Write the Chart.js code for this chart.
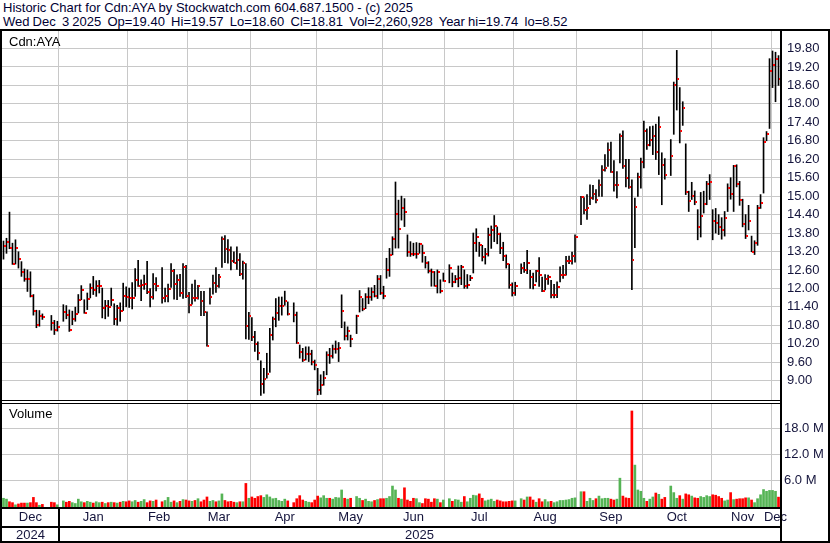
<!DOCTYPE html>
<html>
<head>
<meta charset="utf-8">
<script src="https://cdn.jsdelivr.net/npm/chart.js@4.4.1/dist/chart.umd.min.js"></script>
<style>
  body { margin: 0; background: #fff; width: 830px; height: 543px; overflow: hidden; position: relative;
         font-family: "Liberation Sans", Arial, sans-serif; }
  .hdr { position: absolute; left: 3px; font-size: 13px; line-height: 14px; color: #000033; white-space: pre; }
  .lbl { position: absolute; font-size: 13px; line-height: 14px; color: #000; }
  .ln { position: absolute; background: #000; }
  canvas { position: absolute; left: 0; }
</style>
</head>
<body>
<div class="hdr" style="top:1px">Historic Chart for Cdn:AYA by Stockwatch.com 604.687.1500 - (c) 2025</div>
<div class="hdr" style="top:15px;word-spacing:-0.5px">Wed Dec  3 2025  Op=19.40  Hi=19.57  Lo=18.60  Cl=18.81  Vol=2,260,928  Year hi=19.74  lo=8.52</div>

<canvas id="price" width="830" height="369" style="top:31px"></canvas>
<canvas id="volume" width="830" height="139" style="top:404px"></canvas>

<div class="lbl" style="left:9px;top:35px">Cdn:AYA</div>
<div class="lbl" style="left:9px;top:407px">Volume</div>

<!-- frame -->
<div class="ln" style="left:0;top:29px;width:830px;height:2px"></div>
<div class="ln" style="left:0;top:29px;width:2px;height:514px"></div>
<div class="ln" style="left:828px;top:29px;width:2px;height:514px"></div>
<div class="ln" style="left:780px;top:29px;width:2px;height:514px"></div>
<div class="ln" style="left:0;top:400px;width:782px;height:1px"></div>
<div class="ln" style="left:0;top:403px;width:782px;height:1px"></div>
<div class="ln" style="left:0;top:507px;width:782px;height:2px"></div>
<div class="ln" style="left:0;top:526px;width:782px;height:2px"></div>
<div class="ln" style="left:0;top:541px;width:830px;height:2px"></div>

<script>
// trading slots: every weekday from 5 Dec 2024 to 3 Dec 2025 (holidays are null)
const firstDay = '2024-12-05';
const lastDay = '2025-12-03';
const monthNames = ['Jan', 'Feb', 'Mar', 'Apr', 'May', 'Jun', 'Jul', 'Aug', 'Sep', 'Oct', 'Nov', 'Dec'];

const highs = [
  13.54, 13.63, 14.48, 13.47, 13.58, 13.19, 12.87, 12.63, 12.60, 12.54, 11.80, 11.29, 11.28, 11.17, null, null, 11.12, 10.96, 10.93,
  null, 11.47, 11.44, 11.30, 11.26, 11.39, 11.80, 12.09, 11.63, 11.85, 12.15, 12.39, 12.25, 12.26, 12.01, 11.61, 11.61, 12.01, 11.50, 11.45, 11.53, 12.17, 12.05,
  12.01, 12.19, 12.64, 12.91, 12.28, 12.43, 12.88, 11.99, 12.48, 12.35, null, 12.68, 12.01, 12.14, 12.81, 12.62, 12.44, 12.46, 12.81, 12.75,
  11.87, 12.14, 12.27, 12.10, 11.90, 11.90, 11.24, 12.01, 12.43, 12.68, 12.46, 13.68, 13.72, 13.59, 13.35, 13.19, 13.35, 13.13, 12.89, 12.81, 11.22,
  11.05, 10.60, 10.26, 9.64, 9.40, 9.89, 10.70, 11.07, 11.67, 11.72, 11.72, 11.91, 11.56, null, 11.53, 11.23, 10.16, 10.05, 10.10, 10.10, 9.99, 9.67,
  9.40, 9.19, 9.30, 9.94, 10.05, 10.16, 10.29, 10.24, 11.79, 10.91, 10.75, 10.48, null, 11.13, 11.93, 11.67, 11.83, 12.02, 12.02, 12.10, 12.42, 12.42,
  12.07, 12.98, 13.30, 13.68, 15.46, 14.87, 15.00, 14.92, 13.74, 13.52, 13.47, 13.49, 13.47, 13.41, 13.04, 12.87, 12.63, 12.55, 12.60, 12.28, 12.50,
  null, 12.77, 12.50, 12.42, 12.73, 12.75, 12.60, 12.45, 12.42, 13.80, 13.94, 13.50, 13.40, 13.30, 13.96, 14.03, 14.37, 14.00, 13.80, 13.50, 13.09, 12.79, 12.18,
  12.20, null, 12.80, 12.85, 13.24, 12.59, 12.50, 12.59, 13.00, 12.37, 12.45, 12.43, 12.26, 12.13, 12.21, 12.70, 12.75, 13.04, 13.05, 13.18, 13.74,
  null, 14.99, 14.95, 15.05, 15.37, 15.35, 15.21, 15.53, 15.99, 16.35, 16.73, 16.76, 16.16, 15.80, 17.03, 17.12, 16.20, 16.20, 15.53, 14.94, 15.75, 16.24,
  17.44, 17.19, 17.26, 17.28, 17.34, 17.58, 16.41, 16.22, null, 16.84, 18.71, 19.74, 18.53, 18.07, 16.70, 15.16, 15.45, 15.17, 14.56, 15.12, 15.16, 15.48, 15.70,
  14.56, 14.60, 14.40, 14.30, 14.50, 15.40, 15.60, 16.00, 16.02, 15.48, 14.90, 14.40, 14.70, 13.70, 13.55, 14.70, 15.05, 16.90, 17.10, 19.47,
  19.72, 19.68, 19.57
];
const lows = [
  12.95, 13.14, 13.29, 12.78, 12.79, 12.66, 12.39, 12.23, 11.90, 11.72, 11.13, 10.72, 10.77, 10.99, null, null, 10.64, 10.50, 10.61,
  null, 10.93, 11.01, 10.60, 10.82, 10.93, 11.20, 11.63, 11.19, 11.31, 11.69, 11.80, 11.74, 11.85, 11.04, 11.01, 11.09, 11.44, 10.82, 10.80, 10.93, 11.28, 11.40,
  11.38, 11.33, 11.74, 12.06, 11.60, 11.97, 11.83, 11.40, 11.65, 11.92, null, 11.52, 11.56, 11.56, 12.03, 11.65, 11.63, 11.74, 11.67, 11.70,
  11.20, 11.49, 11.58, 11.65, 11.11, 11.11, 10.12, 11.49, 11.81, 11.87, 12.03, 12.68, 12.84, 12.82, 12.60, 12.84, 12.62, 12.41, 12.30, 10.36, 10.34,
  10.30, 9.95, 9.67, 8.52, 8.59, 9.08, 9.27, 10.32, 10.75, 10.96, 11.13, 11.45, 11.13, null, 10.91, 10.21, 9.73, 9.62, 9.67, 9.62, 9.51, 9.35,
  8.54, 8.55, 8.85, 9.19, 9.56, 9.73, 9.89, 9.62, 10.72, 10.32, 10.32, 10.10, null, 10.53, 11.23, 11.27, 11.34, 11.50, 11.61, 11.72, 11.67, 11.80,
  11.66, 12.33, 12.39, 13.09, 13.31, 13.31, 14.22, 14.01, 13.04, 13.04, 13.06, 12.98, 13.14, 12.85, 12.66, 12.50, 12.07, 12.07, 11.85, 11.85, 12.23,
  null, 12.18, 12.05, 12.18, 12.05, 12.12, 12.00, 12.00, 12.25, 12.50, 13.20, 13.04, 12.89, 12.79, 13.05, 13.30, 13.52, 13.45, 13.13, 12.90, 12.66, 12.00, 11.75,
  11.77, null, 12.48, 12.52, 12.48, 12.00, 11.98, 12.21, 12.06, 11.89, 11.95, 12.13, 11.69, 11.69, 11.70, 12.21, 12.32, 12.43, 12.80, 12.79, 12.85,
  null, 14.07, 14.42, 14.24, 14.72, 14.89, 14.78, 14.99, 14.99, 15.81, 15.97, 15.77, 15.16, 14.94, 16.08, 15.90, 15.30, 15.25, 11.96, 13.32, 14.99, 15.26,
  15.92, 16.52, 16.63, 16.35, 16.19, 15.70, 14.72, 15.55, null, 15.67, 17.01, 17.80, 16.73, 17.30, 15.05, 14.50, 14.89, 14.72, 13.58, 13.67, 14.45, 14.72, 14.89,
  13.58, 13.80, 13.75, 13.60, 13.70, 14.50, 14.90, 14.50, 15.30, 14.70, 14.00, 13.62, 13.90, 13.19, 13.10, 13.40, 14.60, 15.10, 16.80, 17.20,
  18.53, 18.07, 18.60
];
const closes = [
  13.39, 13.51, 13.30, 12.78, 13.32, 12.96, 12.52, 12.29, 12.32, 11.74, 11.26, 10.82, 11.09, 11.06, null, null, 10.87, 10.65, 10.74,
  null, 11.22, 11.15, 10.66, 10.99, 11.18, 11.61, 11.94, 11.19, 11.64, 12.01, 11.96, 12.09, 12.09, 11.36, 11.42, 11.40, 11.62, 10.99, 11.37, 11.28, 11.75, 11.72,
  11.68, 11.70, 12.28, 12.08, 12.10, 12.14, 11.89, 11.73, 12.14, 12.08, null, 11.69, 11.76, 11.97, 12.56, 12.15, 12.28, 11.86, 12.70, 11.74,
  11.46, 11.70, 11.68, 12.08, 11.60, 11.24, 10.14, 11.73, 12.18, 12.08, 12.37, 13.59, 13.27, 13.24, 12.89, 12.84, 12.92, 12.46, 12.84, 10.79, 11.11,
  10.41, 10.20, 9.91, 8.88, 9.06, 9.21, 10.48, 11.02, 11.21, 11.43, 11.43, 11.60, 11.16, null, 11.13, 10.22, 9.93, 9.66, 9.87, 9.87, 9.61, 9.51,
  8.70, 8.86, 9.08, 9.83, 9.80, 10.02, 10.02, 10.05, 11.26, 10.45, 10.61, 10.37, null, 11.09, 11.72, 11.32, 11.72, 11.72, 11.88, 11.75, 12.29, 11.86,
  11.76, 12.60, 13.09, 13.61, 14.42, 13.93, 14.62, 14.49, 13.17, 13.13, 13.12, 13.12, 13.44, 13.15, 12.84, 12.58, 12.52, 12.09, 12.52, 11.90, 12.23,
  null, 12.65, 12.22, 12.30, 12.33, 12.70, 12.09, 12.12, 12.33, 13.49, 13.67, 13.42, 13.01, 13.11, 13.74, 13.90, 14.03, 13.78, 13.31, 13.06, 12.79, 12.11, 11.84,
  12.07, null, 12.67, 12.61, 12.81, 12.37, 12.12, 12.56, 12.43, 11.92, 12.32, 12.37, 11.80, 11.80, 12.03, 12.43, 12.43, 12.90, 12.90, 13.04, 13.66,
  null, 14.96, 14.56, 14.60, 14.94, 15.08, 14.89, 15.37, 15.86, 15.91, 16.50, 15.77, 15.37, 15.37, 16.94, 15.97, 15.60, 15.29, 12.92, 14.64, 15.61, 16.10,
  17.11, 16.65, 16.82, 16.95, 16.43, 17.24, 16.00, 15.68, null, 16.32, 18.61, 18.80, 17.11, 17.86, 15.12, 14.83, 15.00, 14.81, 13.98, 14.34, 14.74, 15.39, 15.45,
  14.18, 14.11, 14.00, 13.91, 14.28, 15.25, 15.08, 15.97, 15.40, 14.86, 14.09, 13.71, 14.18, 13.19, 13.46, 14.63, 14.77, 16.76, 17.02, 19.06,
  19.26, 19.45, 18.81
];
// volume in millions of shares
const volumes = [
  2.0, 1.8, 1.2, 1.0, 0.5, 0.7, 0.9, 0.9, 0.9, 1.0, 2.2, 1.0, 0.4, 0.6, null, null, 1.1, 1.0, 0.5,
  null, 1.4, 1.1, 1.3, 1.0, 0.8, 1.8, 1.2, 1.0, 1.3, 1.1, 0.9, 1.2, 1.0, 1.1, 0.8, 1.0, 1.1, 1.0, 0.9, 1.1, 1.3, 1.2,
  1.4, 1.2, 1.5, 1.1, 1.3, 1.7, 1.0, 1.4, 1.3, 1.6, null, 1.2, 1.5, 2.2, 1.1, 1.4, 1.0, 1.3, 1.7, 1.6,
  1.4, 1.3, 1.5, 1.9, 1.2, 1.6, 2.3, 1.3, 1.5, 1.2, 1.4, 3.0, 1.5, 1.2, 1.3, 1.1, 1.0, 1.2, 1.2, 5.4, 2.0,
  2.3, 2.0, 2.4, 2.6, 2.2, 2.8, 2.3, 1.9, 2.0, 1.5, 1.3, 1.8, 1.4, null, 1.0, 1.9, 2.6, 1.6, 1.3, 1.1, 1.0, 1.6,
  2.5, 2.1, 2.6, 2.0, 2.0, 1.8, 2.2, 2.1, 3.9, 2.0, 1.8, 2.0, null, 2.4, 2.0, 1.5, 1.8, 1.3, 1.2, 1.5, 1.7, 1.9,
  1.9, 2.0, 2.4, 4.8, 3.9, 2.0, 1.8, 4.4, 1.6, 1.3, 2.0, 1.9, 1.0, 0.8, 1.9, 1.8, 1.1, 1.9, 1.8, 1.0, 1.6,
  null, 1.9, 1.3, 1.7, 1.6, 1.1, 2.4, 1.2, 2.0, 2.7, 2.6, 3.0, 2.0, 1.4, 1.6, 1.8, 1.3, 1.6, 1.4, 1.2, 1.2, 1.3, 1.4,
  1.4, null, 1.9, 1.6, 2.3, 2.3, 1.6, 1.1, 1.9, 1.2, 1.7, 1.2, 1.3, 1.0, 1.2, 1.5, 1.5, 1.6, 1.7, 2.0, 2.1,
  null, 3.5, 3.5, 1.3, 2.0, 1.5, 1.9, 2.5, 1.9, 2.0, 2.0, 1.8, 1.6, 1.8, 6.6, 2.5, 2.1, 2.0, 22.0, 9.6, 3.9, 3.6,
  2.0, 1.3, 1.8, 2.3, 3.2, 2.9, 1.8, 2.2, null, 4.8, 3.3, 2.0, 2.6, 1.8, 3.0, 2.8, 2.5, 2.1, 2.0, 2.4, 2.2, 2.6, 2.4,
  2.8, 2.7, 2.4, 2.0, 1.4, 1.6, 3.3, 1.7, 1.8, 1.9, 1.9, 2.1, 2.1, 1.6, 1.0, 1.9, 2.8, 4.0, 3.6, 3.8,
  3.8, 3.6, 2.26
];
const priceTicks = [9.00, 9.60, 10.20, 10.80, 11.40, 12.00, 12.60, 13.20, 13.80, 14.40, 15.00, 15.60, 16.20, 16.80, 17.40, 18.00, 18.60, 19.20, 19.80];
const volumeTicks = [6, 12, 18];

// build the weekday labels
const dates = [];
for (let d = new Date(firstDay + 'T12:00:00'); d <= new Date(lastDay + 'T12:00:00'); d.setDate(d.getDate() + 1)) {
  if (d.getDay() !== 0 && d.getDay() !== 6) dates.push(new Date(d));
}
const labels = dates.map(d => d.toISOString().slice(0, 10));

// month boundaries / month label positions
const monthStarts = [];
const monthLabelAt = {};
let runStart = 0;
for (let i = 1; i <= dates.length; i++) {
  if (i === dates.length || dates[i].getMonth() !== dates[i - 1].getMonth()) {
    monthLabelAt[Math.floor((runStart + i - 1) / 2 + 0.5)] = monthNames[dates[runStart].getMonth()];
    if (i < dates.length) monthStarts.push(i);
    runStart = i;
  }
}
const yearStart = dates.findIndex(d => d.getFullYear() === 2025);

const ranges = highs.map((h, i) => h == null ? null : [lows[i], h]);
const volColors = closes.map((c, i) => {
  let j = i - 1;
  while (j >= 0 && closes[j] == null) j--;
  return (j < 0 || c >= closes[j]) ? '#55b455' : '#ff0000';
});

// close tick: small red mark just right of each bar
const closeMark = document.createElement('canvas');
closeMark.width = 5; closeMark.height = 2;
const mctx = closeMark.getContext('2d');
mctx.fillStyle = '#ff0000';
mctx.fillRect(3, 0, 2, 2);

const gridGray = '#c8c8c8';
const labelFont = { family: '"Liberation Sans", Arial, sans-serif', size: 13 };
const xGrid = {
  offset: true,
  drawTicks: false,
  color: c => monthStarts.includes(c.index) ? gridGray : 'rgba(0,0,0,0)'
};
const noPad = s => { s.paddingTop = 0; s.paddingBottom = 0; s.paddingLeft = 0; s.paddingRight = 0; };

new Chart(document.getElementById('price'), {
  type: 'bar',
  data: {
    labels: labels,
    datasets: [
      { type: 'line', data: closes, showLine: false, pointStyle: closeMark, pointRadius: 2, order: 1 },
      { type: 'bar', data: ranges, backgroundColor: '#000', barThickness: 1, order: 2 }
    ]
  },
  options: {
    responsive: false,
    animation: false,
    events: [],
    devicePixelRatio: 1,
    layout: { autoPadding: false, padding: { left: 2, right: 0, top: 0, bottom: 0 } },
    plugins: { legend: { display: false }, tooltip: { enabled: false } },
    scales: {
      x: {
        grid: xGrid,
        border: { display: false },
        ticks: { display: false },
        afterFit: s => { noPad(s); s.height = 0; }
      },
      y: {
        position: 'right',
        min: 8.37,
        max: 20.37,
        afterBuildTicks: axis => { axis.ticks = priceTicks.map(v => ({ value: v })); },
        grid: { color: gridGray, drawTicks: false },
        border: { display: false },
        ticks: { font: labelFont, color: '#14143c', padding: 7, callback: v => v.toFixed(2) },
        afterFit: s => { noPad(s); s.width = 50; }
      }
    }
  }
});

const yearRow = {
  id: 'yearRow',
  afterDraw(chart) {
    const ctx = chart.ctx;
    const x = chart.scales.x;
    const area = chart.chartArea;
    const xDiv = (x.getPixelForValue(yearStart - 1) + x.getPixelForValue(yearStart)) / 2;
    ctx.save();
    ctx.fillStyle = '#000';
    ctx.fillRect(Math.round(xDiv) - 1, area.bottom, 2, chart.height - area.bottom);
    ctx.font = '13px "Liberation Sans", Arial, sans-serif';
    ctx.textAlign = 'center';
    ctx.textBaseline = 'middle';
    ctx.fillStyle = '#14143c';
    ctx.fillText('2024', (area.left + xDiv) / 2, chart.height - 8);
    ctx.fillText('2025', (xDiv + area.right) / 2, chart.height - 8);
    ctx.restore();
  }
};

new Chart(document.getElementById('volume'), {
  type: 'bar',
  data: {
    labels: labels,
    datasets: [
      { data: volumes, backgroundColor: volColors, barThickness: 2 }
    ]
  },
  options: {
    responsive: false,
    animation: false,
    events: [],
    devicePixelRatio: 1,
    layout: { autoPadding: false, padding: { left: 2, right: 0, top: 0, bottom: 17 } },
    plugins: { legend: { display: false }, tooltip: { enabled: false } },
    scales: {
      x: {
        grid: xGrid,
        border: { display: false },
        ticks: {
          autoSkip: false, maxRotation: 0, minRotation: 0, padding: 3,
          font: labelFont, color: '#14143c',
          callback: (v, i) => monthLabelAt[i] || ''
        },
        afterFit: s => { noPad(s); s.height = 19; }
      },
      y: {
        position: 'right',
        min: 0,
        max: 23.6,
        afterBuildTicks: axis => { axis.ticks = volumeTicks.map(v => ({ value: v })); },
        grid: { color: gridGray, drawTicks: false },
        border: { display: false },
        ticks: { font: labelFont, color: '#14143c', padding: 4, callback: v => v.toFixed(1) + ' M' },
        afterFit: s => { noPad(s); s.width = 50; }
      }
    }
  },
  plugins: [yearRow]
});
</script>
</body>
</html>
